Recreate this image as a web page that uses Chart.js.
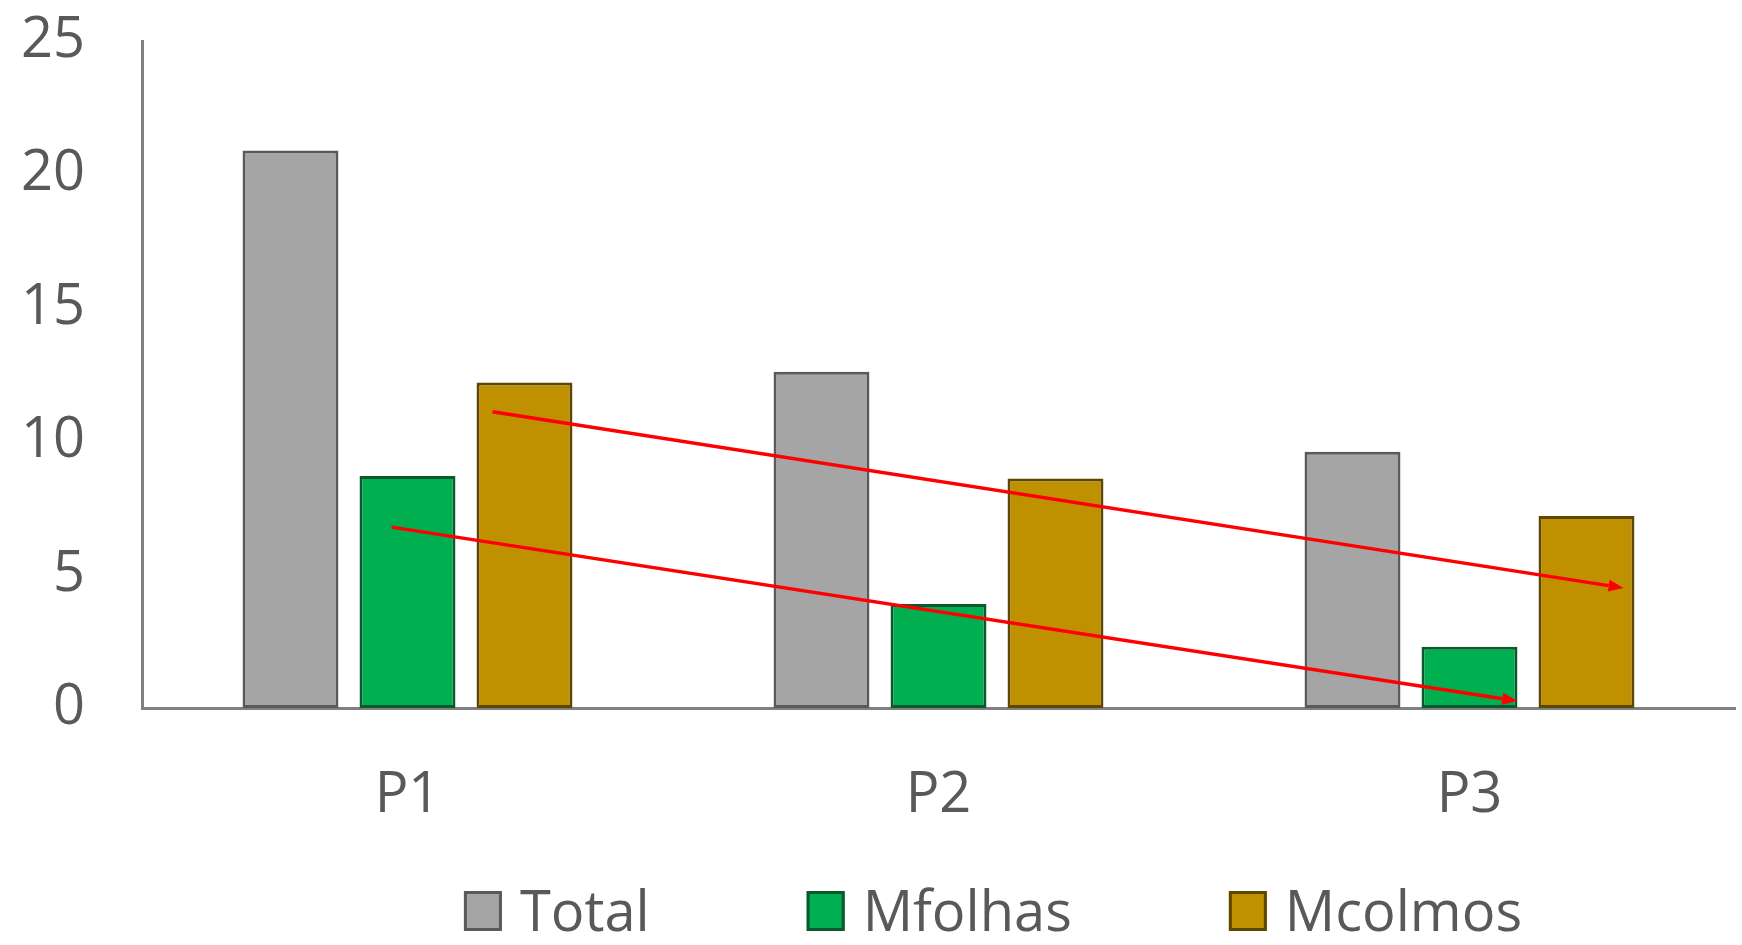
<!DOCTYPE html>
<html>
<head>
<meta charset="utf-8">
<script src="https://cdn.jsdelivr.net/npm/chart.js@4.4.1/dist/chart.umd.min.js"></script>
<style>
  html, body { margin: 0; padding: 0; background: #fff; }
  canvas { display: block; }
</style>
</head>
<body>
<canvas id="chart" width="1742" height="945"></canvas>
<script>
// data
const periods = ['P1', 'P2', 'P3'];
const total = [20.9, 12.6, 9.6];
const mFolhas = [8.7, 3.9, 2.3];
const mColmos = [12.2, 8.6, 7.2];

// red trend arrows, [category position, value]
const arrowFrom = [[0.16, 11.1], [-0.03, 6.78]];
const arrowTo = [[2.29, 4.5], [2.09, 0.26]];

const textColor = '#595959';
const axisColor = '#808080';
const fontFamily = "'Open Sans', sans-serif";
const fontSize = 56;

Chart.defaults.font.family = fontFamily;
Chart.defaults.font.size = fontSize;
Chart.defaults.color = textColor;

const arrowPlugin = {
    id: 'trendArrows',
    afterDatasetsDraw(chart) {
        const { ctx, scales: { x, y } } = chart;
        const head = 15, half = 6;
        ctx.save();
        ctx.strokeStyle = '#ff0000';
        ctx.fillStyle = '#ff0000';
        ctx.lineWidth = 3.5;

        arrowFrom.forEach((from, i) => {
            const to = arrowTo[i];
            const x0 = x.getPixelForValue(from[0]);
            const y0 = y.getPixelForValue(from[1]);
            const x1 = x.getPixelForValue(to[0]);
            const y1 = y.getPixelForValue(to[1]);
            const ang = Math.atan2(y1 - y0, x1 - x0);
            const bx = x1 - head * Math.cos(ang);
            const by = y1 - head * Math.sin(ang);

            ctx.beginPath();
            ctx.moveTo(x0, y0);
            ctx.lineTo(bx, by);
            ctx.stroke();

            ctx.beginPath();
            ctx.moveTo(x1, y1);
            ctx.lineTo(bx + half * Math.sin(ang), by - half * Math.cos(ang));
            ctx.lineTo(bx - half * Math.sin(ang), by + half * Math.cos(ang));
            ctx.closePath();
            ctx.fill();
        });

        ctx.restore();
    }
};

// legend drawn in one row under the axis labels
const legendPlugin = {
    id: 'rowLegend',
    afterDraw(chart) {
        const ctx = chart.ctx;
        const boxW = 38, boxH = 40, textGap = 18, itemGap = 157;
        const centerX = 993, baseline = 931;
        ctx.save();
        ctx.font = fontSize + 'px ' + fontFamily;
        ctx.textBaseline = 'alphabetic';
        ctx.textAlign = 'left';

        const items = chart.data.datasets.map(ds => ({
            ds,
            w: boxW + textGap + ctx.measureText(ds.label).width
        }));
        const fullW = items.reduce((s, it) => s + it.w, 0) + itemGap * (items.length - 1);
        let cx = centerX - fullW / 2;

        items.forEach(({ ds, w }) => {
            ctx.fillStyle = ds.backgroundColor;
            ctx.fillRect(cx, baseline - boxH, boxW, boxH);
            ctx.strokeStyle = ds.borderColor;
            ctx.lineWidth = 3;
            ctx.strokeRect(cx + 1.5, baseline - boxH + 1.5, boxW - 3, boxH - 3);
            ctx.fillStyle = textColor;
            ctx.fillText(ds.label, cx + boxW + textGap, baseline);
            cx += w + itemGap;
        });

        ctx.restore();
    }
};

const barStyle = {
    borderWidth: 3,
    borderSkipped: false,
    categoryPercentage: 0.661,
    barPercentage: 0.82
};

new Chart(document.getElementById('chart').getContext('2d'), {
    type: 'bar',
    data: {
        labels: periods,
        datasets: [
            { label: 'Total', data: total, backgroundColor: '#a5a5a5', borderColor: '#5a5a5a', ...barStyle },
            { label: 'Mfolhas', data: mFolhas, backgroundColor: '#00b050', borderColor: '#0b5a2f', ...barStyle },
            { label: 'Mcolmos', data: mColmos, backgroundColor: '#bf9000', borderColor: '#5e4700', ...barStyle }
        ]
    },
    options: {
        responsive: false,
        animation: false,
        layout: { padding: { top: 41, right: 7, bottom: 107, left: 0 } },
        scales: {
            x: {
                grid: { display: false, drawTicks: false },
                border: { display: true, color: axisColor, width: 3 },
                ticks: { padding: 54, color: textColor },
                afterFit: s => { s.height = 130; }
            },
            y: {
                min: 0,
                max: 25,
                grid: { display: false, drawTicks: false },
                border: { display: true, color: axisColor, width: 3 },
                ticks: { stepSize: 5, padding: 57, color: textColor },
                afterFit: s => { s.width = 142; s.paddingTop = 0; s.paddingBottom = 0; }
            }
        },
        plugins: {
            legend: { display: false },
            tooltip: { enabled: false }
        }
    },
    plugins: [arrowPlugin, legendPlugin]
});
</script>
</body>
</html>
